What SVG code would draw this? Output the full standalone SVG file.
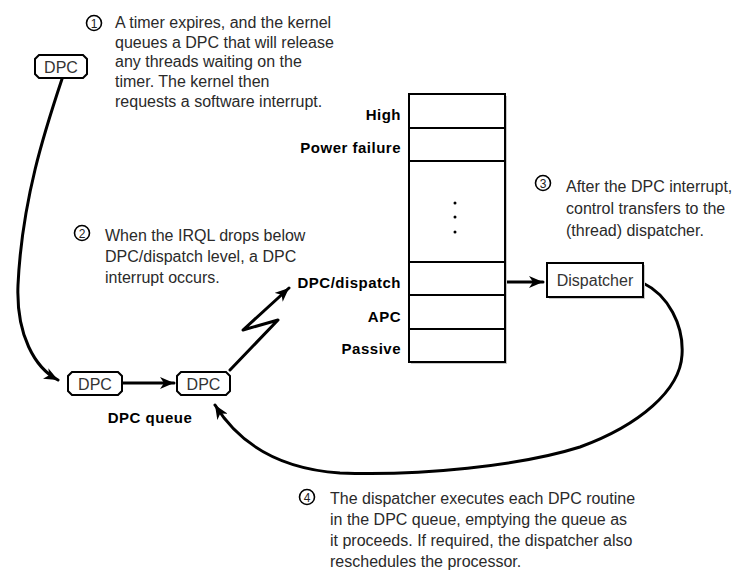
<svg xmlns="http://www.w3.org/2000/svg" width="736" height="572" viewBox="0 0 736 572">
<style>
.body{font-family:"Liberation Sans",Arial,sans-serif;font-size:16px;fill:#2a2a2a}
.lbl{font-family:"Liberation Sans",Arial,sans-serif;font-size:15px;font-weight:bold;fill:#000;letter-spacing:0.5px}
.num{font-family:"Liberation Sans",Arial,sans-serif;font-size:12px;fill:#222;text-anchor:middle}
.ncirc{fill:#fff;stroke:#000;stroke-width:1.6}
.dpcbox{fill:#fff;stroke:#000;stroke-width:2}
.dpctxt{font-family:"Liberation Sans",Arial,sans-serif;font-size:16px;fill:#333;text-anchor:middle}
.conn{fill:none;stroke:#000;stroke-width:3;stroke-linecap:round;stroke-linejoin:round}
.cell{fill:none;stroke:#000;stroke-width:2}
.shadow{fill:#c8c8c8}
</style>
<defs>
<marker id="ah" markerUnits="userSpaceOnUse" markerWidth="16" markerHeight="12" refX="14" refY="6" orient="auto">
<path d="M0,0 L14,6 L0,12 L4,6 Z" fill="#000"/>
</marker>
</defs>

<g id="connectors">
<path class="conn" d="M62,79 C45,130 22,200 18,285 C16,335 35,368 58,380" marker-end="url(#ah)"/>
<path class="conn" d="M122,383 L174,383" marker-end="url(#ah)"/>
<polyline class="conn" points="230,370 278,320 243,330 289,288" marker-end="url(#ah)"/>
<circle cx="455" cy="282" r="3.5" fill="#000"/>
<path class="conn" d="M455,282 L543,282" marker-end="url(#ah)"/>
<path class="conn" d="M643,283 C668,295 684,325 682,355 C680,390 640,425 580,447 C520,466 420,476 340,473 C280,469 240,445 215,405" marker-end="url(#ah)"/>
</g>

<g id="dpc-timer">
<path class="dpcbox" d="M39,55 H83 L87,59 V74 L83,78 H39 L35,74 V59 Z"/>
<text class="dpctxt" x="61" y="72.5">DPC</text>
</g>

<g id="dpc-queue-1">
<path class="dpcbox" d="M72,372 H118 L122,376 V391 L118,395 H72 L68,391 V376 Z"/>
<text class="dpctxt" x="95" y="389.5">DPC</text>
</g>

<g id="dpc-queue-2">
<path class="dpcbox" d="M181,372 H226 L230,376 V391 L226,395 H181 L177,391 V376 Z"/>
<text class="dpctxt" x="203.5" y="389.5">DPC</text>
</g>

<g id="dpc-queue-label">
<text class="lbl" x="150" y="423" text-anchor="middle">DPC queue</text>
</g>

<g id="irql-table">
<rect class="shadow" x="411" y="96" width="96" height="268"/>
<rect x="409" y="94" width="96" height="268" fill="#fff"/>
<rect class="cell" x="409" y="94" width="96" height="268"/>
<line class="cell" x1="409" y1="128" x2="505" y2="128"/>
<line class="cell" x1="409" y1="161" x2="505" y2="161"/>
<line class="cell" x1="409" y1="262" x2="505" y2="262"/>
<line class="cell" x1="409" y1="295" x2="505" y2="295"/>
<line class="cell" x1="409" y1="329" x2="505" y2="329"/>
<circle cx="455" cy="203" r="1.5" fill="#000"/>
<circle cx="455" cy="217" r="1.5" fill="#000"/>
<circle cx="455" cy="232" r="1.5" fill="#000"/>
<text class="lbl" x="401" y="120" text-anchor="end">High</text>
<text class="lbl" x="401" y="153" text-anchor="end">Power failure</text>
<text class="lbl" x="401" y="288" text-anchor="end">DPC/dispatch</text>
<text class="lbl" x="401" y="322" text-anchor="end">APC</text>
<text class="lbl" x="401" y="354" text-anchor="end">Passive</text>
</g>

<g id="dispatcher">
<rect class="shadow" x="549" y="265" width="96" height="34"/>
<rect x="547" y="263" width="96" height="34" fill="#fff" stroke="#000" stroke-width="2"/>
<text class="dpctxt" x="595" y="286">Dispatcher</text>
</g>

<g id="note-1">
<circle class="ncirc" cx="94" cy="23" r="7.5"/>
<text class="num" x="94" y="27.5">1</text>
<text class="body"><tspan x="115" y="28">A timer expires, and the kernel</tspan><tspan x="115" y="47.5">queues a DPC that will release</tspan><tspan x="115" y="67">any threads waiting on the</tspan><tspan x="115" y="87">timer. The kernel then</tspan><tspan x="115" y="107">requests a software interrupt.</tspan></text>
</g>

<g id="note-2">
<circle class="ncirc" cx="82" cy="233" r="7.5"/>
<text class="num" x="82" y="237.5">2</text>
<text class="body"><tspan x="105" y="241">When the IRQL drops below</tspan><tspan x="105" y="262">DPC/dispatch level, a DPC</tspan><tspan x="105" y="283">interrupt occurs.</tspan></text>
</g>

<g id="note-3">
<circle class="ncirc" cx="543" cy="183" r="7.5"/>
<text class="num" x="543" y="187.5">3</text>
<text class="body"><tspan x="566" y="192">After the DPC interrupt,</tspan><tspan x="566" y="214">control transfers to the</tspan><tspan x="566" y="236">(thread) dispatcher.</tspan></text>
</g>

<g id="note-4">
<circle class="ncirc" cx="307" cy="497" r="7.5"/>
<text class="num" x="307" y="501.5">4</text>
<text class="body"><tspan x="330" y="504">The dispatcher executes each DPC routine</tspan><tspan x="330" y="525">in the DPC queue, emptying the queue as</tspan><tspan x="330" y="546">it proceeds. If required, the dispatcher also</tspan><tspan x="330" y="567">reschedules the processor.</tspan></text>
</g>
</svg>
